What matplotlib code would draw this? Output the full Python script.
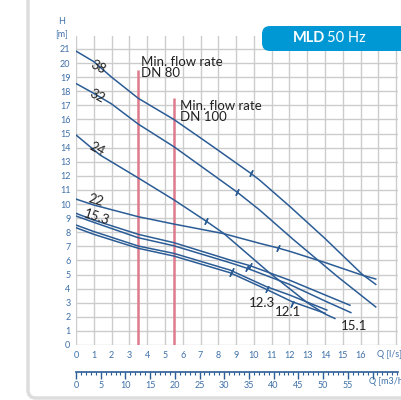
import numpy as np
import matplotlib as mpl
import matplotlib.pyplot as plt
from matplotlib.patches import FancyBboxPatch

mpl.use('agg')
plt.rcParams['font.family'] = ['Lato', 'DejaVu Sans']

# pump curves, Q in l/s and H in m
q38 = [0, 1, 2, 3.5, 5.5, 7.5, 9.8, 10.3, 12, 14, 16.1, 16.85]
h38 = [20.85, 20.1, 19.0, 17.5, 16.0, 14.25, 12.2, 11.72, 9.85, 7.55, 5.0, 4.3]
q32 = [0, 1, 2, 3.5, 5.5, 9.05, 10.3, 12.2, 14.7, 16.85]
h32 = [18.55, 17.85, 17.1, 15.67, 14.07, 10.85, 9.6, 7.5, 4.85, 2.7]
q24 = [0, 1.35, 3.5, 5.5, 7.3, 8.3, 10.8, 12, 13, 14, 14.55]
h24 = [14.9, 13.48, 11.85, 10.3, 8.8, 7.92, 5.2, 4.0, 3.0, 2.2, 1.88]
q22 = [0, 1, 3.5, 5.5, 8.3, 10.3, 11.3, 12, 14, 16.1, 16.85]
h22 = [10.35, 9.93, 9.1, 8.58, 7.9, 7.22, 6.9, 6.65, 5.85, 4.95, 4.68]
q153 = [0, 1, 3.5, 5.5, 8.65, 9.8, 12, 14, 15.4]
h153 = [9.34, 8.86, 7.85, 7.26, 6.03, 5.62, 4.6, 3.55, 2.82]
q151 = [0, 1, 3.5, 5.5, 8.65, 9.6, 12, 14, 15.45]
h151 = [9.15, 8.7, 7.61, 7.04, 5.84, 5.45, 4.3, 3.12, 2.3]
q123 = [0, 1, 3.5, 5.5, 8.65, 10.7, 12, 14.1]
h123 = [8.51, 8.05, 7.02, 6.5, 5.32, 4.14, 3.55, 2.48]
q121 = [0, 1, 3.5, 5.5, 8.65, 10.7, 12.15, 14.0]
h121 = [8.32, 7.85, 6.86, 6.31, 5.13, 3.95, 3.07, 2.25]

# Q where each curve carries a small cross mark
marks = {'38': 9.81, '32': 9.06, '24': 7.3, '22': 11.33,
         '15.3': 9.78, '15.1': 9.59, '12.3': 8.78, '12.1': 8.69}
leaders = {'12.3': 10.75, '12.1': 12.15}

# min flow rate lines: Q and top of the line
minflow_q = [3.5, 5.5]
minflow_top = [19.5, 17.5]
minflow_txt = ['Min. flow rate\nDN 80', 'Min. flow rate\nDN 100']
minflow_pos = [(3.65, 19.7), (5.84, 16.56)]

curves = {'38': (q38, h38), '32': (q32, h32), '24': (q24, h24), '22': (q22, h22),
          '15.3': (q153, h153), '15.1': (q151, h151), '12.3': (q123, h123), '12.1': (q121, h121)}

# curve labels: (Q, H, rotation)
labels = {'38': (1.25, 19.75, -28), '32': (1.18, 17.65, -28), '24': (1.2, 13.9, -28),
          '22': (1.14, 10.3, -16), '15.3': (1.18, 9.05, -18),
          '12.3': (10.44, 2.98, 0), '12.1': (11.9, 2.36, 0), '15.1': (15.65, 1.36, 0)}

line_col = '#2b5c95'
txt_blue = '#3f70a8'
red = '#dd7a8c'

W, H = 401, 400


def px(x, y):
    return x / W, 1 - y / H


fig = plt.figure(figsize=(W / 100, H / 100), dpi=100)

# grey frame round the panel
frame = FancyBboxPatch((28 / W, 2 / H), 1.2, 1.2, boxstyle='round,pad=0,rounding_size=0.02',
                       transform=fig.transFigure, fc='none', ec='#dddddd', lw=2.5)
fig.patches.append(frame)

# blue tab
tab = FancyBboxPatch((262 / W, 1 - 51 / H), 0.5, 25 / H, boxstyle='round,pad=0,rounding_size=0.02',
                     transform=fig.transFigure, fc='#0098d4', ec='none')
fig.patches.append(tab)
fig.text(*px(293, 38.5), 'MLD', color='white', fontsize=10.5, fontweight='bold', va='center')
fig.text(*px(327, 38.5), '50 Hz', color='white', fontsize=10.5, va='center')

ax = fig.add_axes([76 / W, 55 / H, 322 / W, 309 / H])
ax.set_xlim(0, 18.1)
ax.set_ylim(0, 21.92)
ax.set_xticks(range(0, 19))
ax.set_xticklabels([str(i) if i <= 16 else '' for i in range(19)])
ax.set_yticks(range(0, 22))
ax.grid(True, color='#cccccc', lw=1)
ax.set_axisbelow(True)
for s in ax.spines.values():
    s.set_visible(False)
ax.tick_params(length=0, labelsize=6.5, labelcolor=txt_blue)
ax.tick_params(axis='x', pad=4)
ax.tick_params(axis='y', pad=4)

# min flow lines
ax.vlines(minflow_q, 0, minflow_top, color=red, lw=1.8)
for (x, y), t in zip(minflow_pos, minflow_txt):
    ax.text(x, y, t, fontsize=9.5, color='#222222', va='center', ha='left', linespacing=0.95)

for name, (q, h) in curves.items():
    ax.plot(q, h, color=line_col, lw=1.1)
    qm = marks[name]
    ax.plot(qm, np.interp(qm, q, h), marker=(2, 2, -25), ms=5, mew=1, mec=line_col, ls='none')
    if name in leaders:
        ql = leaders[name]
        ax.plot(ql, np.interp(ql, q, h) - 0.15, marker=(2, 2, -25), ms=5, mew=1, mec=line_col, ls='none')

for name, (x, y, r) in labels.items():
    ax.text(x, y, name, fontsize=9.5, color='#222222', ha='center', va='center', rotation=r,
            rotation_mode='anchor')

# second flow scale in m3/h
sec = ax.secondary_xaxis(-0.0864, functions=(lambda x: x * 3.6, lambda x: x / 3.6))
sec.set_xticks(range(0, 61, 5))
sec.set_xticklabels([str(v) if v <= 55 else '' for v in range(0, 61, 5)])
sec.xaxis.set_minor_locator(mpl.ticker.MultipleLocator(1))
sec.tick_params(which='major', length=5, width=1, color=line_col, labelsize=6.5,
                labelcolor=txt_blue, pad=2)
sec.tick_params(which='minor', length=2.5, width=0.8, color=line_col)
for s in sec.spines.values():
    s.set_color(line_col)
    s.set_linewidth(1.2)

fig.text(*px(62, 22), 'H', color=txt_blue, fontsize=6.5, ha='center', va='center')
fig.text(*px(62, 35), '[m]', color=txt_blue, fontsize=6.5, ha='center', va='center')
fig.text(*px(377, 354.5), 'Q [l/s]', color=txt_blue, fontsize=6.5, ha='left', va='center')
fig.text(*px(369, 382), 'Q [m3/h]', color=txt_blue, fontsize=6.5, ha='left', va='center')

fig.savefig('out.png', dpi=100)
